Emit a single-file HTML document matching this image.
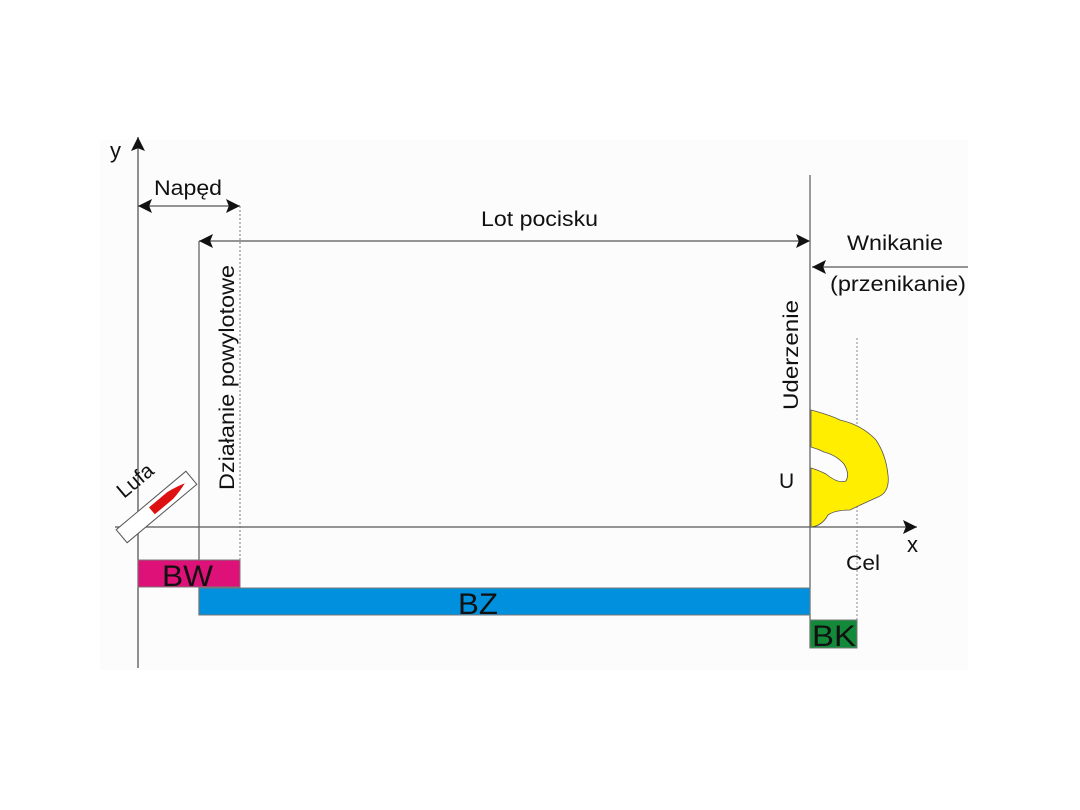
<!DOCTYPE html>
<html><head><meta charset="utf-8"><style>
html,body{margin:0;padding:0;background:#fff;}
svg{display:block;}
text{font-family:"Liberation Sans",sans-serif;fill:#111;}
</style></head><body>
<svg width="1080" height="810" viewBox="0 0 1080 810">
<defs>
<marker id="a" viewBox="0 0 10 10" refX="10" refY="5" markerWidth="22" markerHeight="14" markerUnits="userSpaceOnUse" orient="auto-start-reverse"><path d="M0,0L10,5L0,10L2,5Z" fill="#111"/></marker>
</defs>
<rect x="100" y="140" width="868" height="530" fill="#fcfcfc"/>
<line x1="138" y1="668" x2="138" y2="137" stroke="#555" stroke-width="1.3" marker-end="url(#a)"/>
<line x1="115" y1="527" x2="917" y2="527" stroke="#555" stroke-width="1.3" marker-end="url(#a)"/>
<text x="110" y="158" font-size="22">y</text>
<text x="907" y="552" font-size="22">x</text>
<line x1="138" y1="206" x2="240" y2="206" stroke="#555" stroke-width="1.3" marker-start="url(#a)" marker-end="url(#a)"/>
<text x="154" y="195" font-size="21" textLength="68" lengthAdjust="spacingAndGlyphs">Napęd</text>
<line x1="240" y1="206" x2="240" y2="560" stroke="#777" stroke-width="1" stroke-dasharray="2,2"/>
<line x1="199" y1="241" x2="199" y2="615" stroke="#666" stroke-width="1.3"/>
<line x1="199" y1="241" x2="810" y2="241" stroke="#555" stroke-width="1.3" marker-start="url(#a)" marker-end="url(#a)"/>
<text x="481" y="226" font-size="21" textLength="117" lengthAdjust="spacingAndGlyphs">Lot pocisku</text>
<line x1="810" y1="175" x2="810" y2="648" stroke="#666" stroke-width="1.3"/>
<line x1="968" y1="267" x2="812" y2="267" stroke="#555" stroke-width="1.3" marker-end="url(#a)"/>
<text x="847" y="250" font-size="21" textLength="96" lengthAdjust="spacingAndGlyphs">Wnikanie</text>
<text x="830" y="291" font-size="21" textLength="136" lengthAdjust="spacingAndGlyphs">(przenikanie)</text>
<line x1="857" y1="338" x2="857" y2="640" stroke="#888" stroke-width="1" stroke-dasharray="2,2"/>
<text transform="translate(234,490) rotate(-90)" font-size="21" textLength="225" lengthAdjust="spacingAndGlyphs">Działanie powylotowe</text>
<text transform="translate(798,410) rotate(-90)" font-size="21" textLength="110" lengthAdjust="spacingAndGlyphs">Uderzenie</text>
<text x="779" y="488" font-size="21">U</text>
<text x="846" y="570" font-size="21" textLength="34" lengthAdjust="spacingAndGlyphs">Cel</text>
<path d="M811,410 Q830,415 840,420 Q862,425 876,440 Q886,455 888,475 Q890,492 878,497 Q860,505 850,510 Q835,510 828,515 Q822,526 811,527 L811,468 Q818,470 826,474 Q838,484 846,481 Q850,474 844,464 Q836,455 824,452 Q818,449 811,447 Z" fill="#ffee00" stroke="#555" stroke-width="0.8"/>
<g transform="translate(156.5,507) rotate(-40)">
<rect x="-45.5" y="-8.5" width="91" height="17" fill="#fff" stroke="#555" stroke-width="1"/>
<path d="M-6,-4.5 L18,-4.5 Q28,-3 37,0 Q28,3 18,4.5 L-6,4.5 Z" fill="#dd1111"/>
</g>
<text transform="translate(124,499) rotate(-40)" font-size="21">Lufa</text>
<rect x="138" y="560" width="102" height="27" fill="#dd1177" stroke="#777" stroke-width="1"/>
<text x="162" y="586" font-size="30" textLength="51" lengthAdjust="spacingAndGlyphs">BW</text>
<rect x="199" y="588" width="611" height="27" fill="#0090dd" stroke="#777" stroke-width="1"/>
<text x="458" y="614" font-size="30" textLength="40" lengthAdjust="spacingAndGlyphs">BZ</text>
<rect x="810" y="620" width="47" height="28" fill="#138a3a" stroke="#777" stroke-width="1"/>
<text x="812" y="646" font-size="30" textLength="44" lengthAdjust="spacingAndGlyphs">BK</text>
</svg>
</body></html>
